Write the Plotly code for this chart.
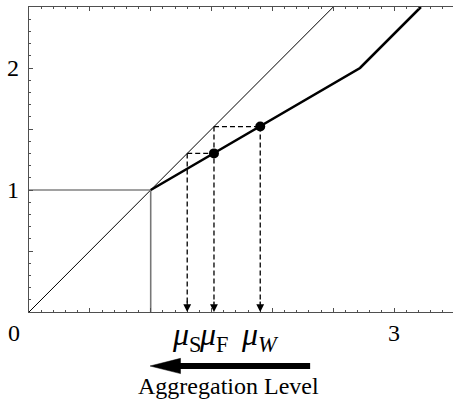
import plotly.graph_objects as go

# data
DIAG_X = [0.0, 2.5]
DIAG_Y = [0.0, 2.5]

FLAT_X = [0.0, 1.0, 1.0]
FLAT_Y = [1.0, 1.0, 0.0]

CURVE_X = [1.0, 2.72, 3.22]
CURVE_Y = [1.0, 2.0, 2.5]

MU_S = 1.30
MU_F = 1.52
MU_W = 1.90

DOT_X = [MU_F, MU_W]
DOT_Y = [MU_S, MU_F]

MU_LABELS = ["<i>μ</i><sub>S</sub>", "<i>μ</i><sub>F</sub>", "<i>μ</i><sub><i>W</i></sub>"]

XTICK_VALS = [0, 3]
YTICK_VALS = [1, 2]

SERIF = "Liberation Serif, Times New Roman, serif"
AXIS_COLOR = "#4f4f4f"

fig = go.Figure()

fig.add_trace(go.Scatter(x=DIAG_X, y=DIAG_Y, mode="lines", line={"color": "black", "width": 1}))
fig.add_trace(go.Scatter(x=FLAT_X[:2], y=FLAT_Y[:2], mode="lines", line={"color": "#444444", "width": 1.1}))
fig.add_trace(go.Scatter(x=FLAT_X[1:], y=FLAT_Y[1:], mode="lines", line={"color": "#777777", "width": 1.6}))

# dashed construction lines
dash = {"color": "black", "width": 1.3, "dash": "5px,3px"}
fig.add_trace(go.Scatter(x=[MU_S, MU_F], y=[MU_S, MU_S], mode="lines", line=dash))
fig.add_trace(go.Scatter(x=[MU_F, MU_W], y=[MU_F, MU_F], mode="lines", line=dash))
for mu, top in [(MU_S, MU_S), (MU_F, MU_F), (MU_W, MU_F)]:
    fig.add_trace(go.Scatter(x=[mu, mu], y=[top, 0.07], mode="lines", line=dash))
    fig.add_annotation(x=mu, y=0, xref="x", yref="y", ax=0, ay=-12, text="",
                       showarrow=True, arrowhead=2, arrowsize=1.3, arrowwidth=1.2, arrowcolor="black")

fig.add_trace(go.Scatter(x=CURVE_X, y=CURVE_Y, mode="lines", line={"color": "black", "width": 2.6}))
fig.add_trace(go.Scatter(x=DOT_X, y=DOT_Y, mode="markers", marker={"color": "black", "size": 10}))

# tick labels
for v in XTICK_VALS:
    fig.add_annotation(x=v, y=0, xref="x", yref="y", text=str(v), showarrow=False,
                       xshift=-15 if v == 0 else 0, yshift=-21,
                       font={"family": SERIF, "size": 24, "color": "black"})
for v in YTICK_VALS:
    fig.add_annotation(x=0, y=v, xref="x", yref="y", text=str(v), showarrow=False,
                       xshift=-16, font={"family": SERIF, "size": 24, "color": "black"})

for mu, label in zip([MU_S, MU_F, MU_W], MU_LABELS):
    fig.add_annotation(x=mu, y=0, xref="x", yref="y", text=label, showarrow=False,
                       xshift=0, yshift=-24, font={"family": SERIF, "size": 32, "color": "black"})

# aggregation arrow (shaft + long narrow head)
fig.add_shape(type="line", xref="x", yref="paper", x0=1.2, x1=2.31, y0=-0.177, y1=-0.177,
              line={"color": "black", "width": 6})
fig.add_shape(type="path", xref="x", yref="paper",
              path="M 0.995,-0.177 L 1.245,-0.152 L 1.245,-0.202 Z",
              fillcolor="black", line={"color": "black", "width": 0.5})
fig.add_annotation(x=1.64, y=-0.243, xref="x", yref="paper", yanchor="middle", text="Aggregation Level",
                   showarrow=False, font={"family": SERIF, "size": 24, "color": "black"})

fig.update_xaxes(range=[0, 3.484], showgrid=False, zeroline=False, showline=True, linecolor=AXIS_COLOR,
                 linewidth=1.3, mirror="allticks", ticks="inside", tickcolor=AXIS_COLOR, ticklen=4,
                 tickwidth=1, dtick=0.5, tick0=0, showticklabels=False,
                 minor={"ticks": "inside", "dtick": 0.1, "ticklen": 2, "tickcolor": AXIS_COLOR})
fig.update_yaxes(range=[0, 2.5], showgrid=False, zeroline=False, showline=True, linecolor=AXIS_COLOR,
                 linewidth=1.3, ticks="inside", tickcolor=AXIS_COLOR, ticklen=4, tickwidth=1,
                 dtick=0.5, tick0=0, showticklabels=False,
                 minor={"ticks": "inside", "dtick": 0.1, "ticklen": 2, "tickcolor": AXIS_COLOR})

fig.update_layout(width=453, height=401, margin={"l": 29, "r": 0, "t": 7, "b": 89},
                  showlegend=False, plot_bgcolor="white", paper_bgcolor="white")

fig.write_html("out.html", config={"displayModeBar": False},
               post_script="document.body.style.margin='0';")
